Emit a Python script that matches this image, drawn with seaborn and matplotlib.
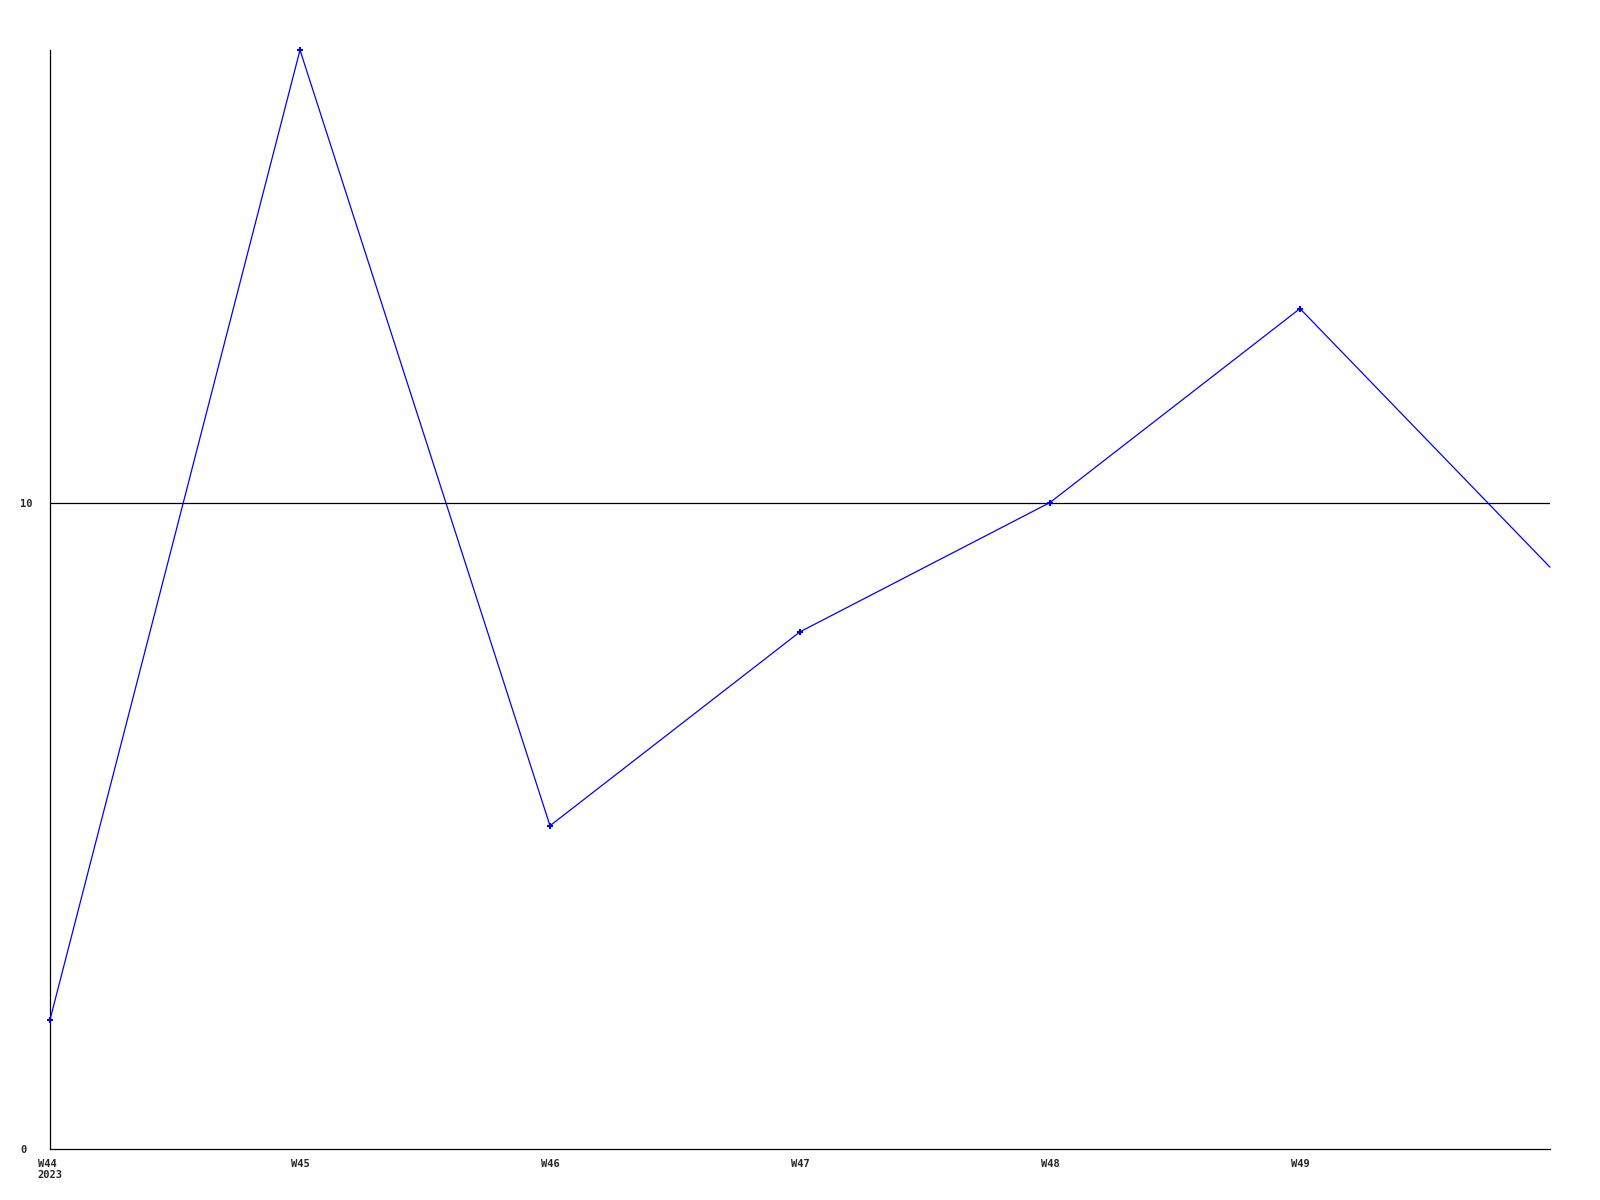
import matplotlib
matplotlib.use("Agg")
import matplotlib.pyplot as plt
import seaborn as sns
import pandas as pd

weeks = ["W44", "W45", "W46", "W47", "W48", "W49", "W50"]
values = [2, 17, 5, 8, 10, 13, 9]
tick_labels = ["W44\n2023", "W45", "W46", "W47", "W48", "W49"]
y_ticks = [0, 10]

df = pd.DataFrame({"pos": range(len(weeks)), "value": values})

sns.set_style("white")
plt.rcParams["font.family"] = ["DejaVu Sans Mono", "DejaVu Sans"]

fig = plt.figure(figsize=(16, 12), dpi=100)
ax = fig.add_axes([50 / 1600, 1 - 1149 / 1200, 1500 / 1600, 1099 / 1200])

sns.lineplot(data=df, x="pos", y="value", ax=ax, color="#0000ff", linewidth=0.9,
             marker="+", markersize=5, markeredgewidth=1.5, markeredgecolor="#0000ff",
             zorder=3)
line = ax.get_lines()[0]
line.set_markevery(list(range(len(weeks) - 1)))
line.set_clip_on(False)

ax.axhline(10, color="black", linewidth=0.9, zorder=2)

ax.set_xlim(0, len(weeks) - 1)
ax.set_ylim(0, 17)
ax.set_xticks(range(len(tick_labels)))
ax.set_xticklabels(tick_labels, fontsize=7.5, fontweight="bold")
for t in ax.get_xticklabels():
    t.set_multialignment("left")
ax.set_yticks(y_ticks)
ax.set_yticklabels([str(v) for v in y_ticks], fontsize=7.5, fontweight="bold")
for t in ax.get_yticklabels():
    t.set_horizontalalignment("left")
ax.tick_params(axis="x", length=0, pad=7)
ax.tick_params(axis="y", length=0, pad=21.6)
ax.set_xlabel("")
ax.set_ylabel("")

for s in ["top", "right"]:
    ax.spines[s].set_visible(False)
for s in ["left", "bottom"]:
    ax.spines[s].set_color("black")
    ax.spines[s].set_linewidth(0.9)

fig.savefig("out.png", dpi=100, facecolor="white")
